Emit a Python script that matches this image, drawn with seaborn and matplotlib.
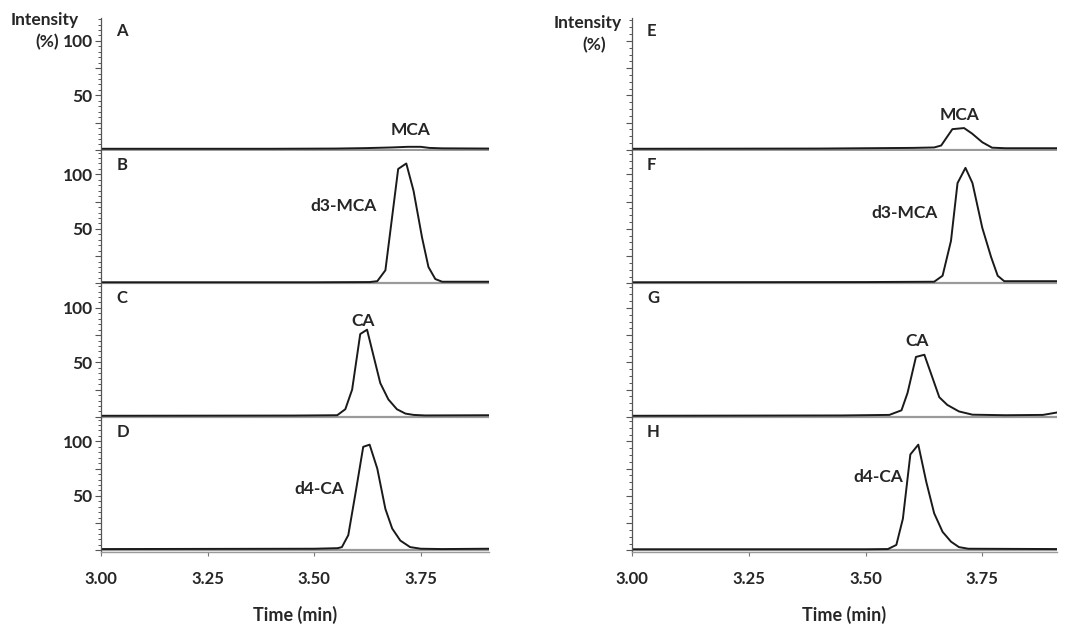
import matplotlib
matplotlib.use('Agg')
import matplotlib.pyplot as plt
import seaborn as sns
from matplotlib.ticker import MultipleLocator, FixedLocator

sns.set_style('ticks')
plt.rcParams['font.family'] = ['Lato', 'DejaVu Sans']
plt.rcParams['font.weight'] = 'bold'

# ---- chromatogram traces (time in min, intensity in %) ----
# left column: A-D
A_t = [3.00, 3.40, 3.55, 3.62, 3.68, 3.72, 3.75, 3.77, 3.80, 3.91]
A_y = [1.0, 1.0, 1.2, 1.6, 2.2, 2.8, 2.8, 1.8, 1.4, 1.2]

B_t = [3.00, 3.50, 3.63, 3.648, 3.667, 3.697, 3.716, 3.733, 3.753, 3.768, 3.784, 3.80, 3.91]
B_y = [1.0, 1.0, 1.2, 2.0, 12, 105, 110, 85, 42, 15, 4, 1.5, 1.5]

C_t = [3.00, 3.45, 3.554, 3.573, 3.589, 3.608, 3.624, 3.636, 3.655, 3.674, 3.694, 3.714, 3.733, 3.76, 3.91]
C_y = [1.0, 1.2, 1.5, 7, 25, 76, 80, 61, 31, 16, 7, 3, 1.8, 1.3, 1.5]

D_t = [3.00, 3.50, 3.555, 3.565, 3.58, 3.598, 3.615, 3.630, 3.648, 3.667, 3.683, 3.702, 3.725, 3.75, 3.80, 3.91]
D_y = [1.2, 1.5, 2, 3, 14, 55, 95, 97, 75, 38, 20, 9, 3, 1.5, 1.2, 1.5]

# right column: E-H
E_t = [3.00, 3.40, 3.60, 3.647, 3.662, 3.686, 3.711, 3.728, 3.750, 3.771, 3.80, 3.91]
E_y = [1.0, 1.2, 1.8, 2.2, 4, 19, 20, 15, 7, 2, 1.5, 1.5]

F_t = [3.00, 3.50, 3.647, 3.665, 3.683, 3.697, 3.714, 3.729, 3.750, 3.769, 3.783, 3.797, 3.91]
F_y = [1.0, 1.2, 1.5, 7, 39, 92, 106, 92, 51, 24, 7, 2, 2]

G_t = [3.00, 3.45, 3.551, 3.577, 3.590, 3.608, 3.626, 3.640, 3.658, 3.675, 3.700, 3.729, 3.80, 3.88, 3.91]
G_y = [1.0, 1.3, 1.8, 6, 22, 55, 57, 40, 18, 11, 5, 2, 1.5, 1.8, 4]

H_t = [3.00, 3.50, 3.548, 3.566, 3.580, 3.596, 3.613, 3.630, 3.647, 3.665, 3.683, 3.700, 3.720, 3.91]
H_y = [1.0, 1.0, 1.2, 5, 29, 88, 97, 63, 34, 17, 8, 3, 1.5, 1.2]

panel_letters = [['A', 'B', 'C', 'D'], ['E', 'F', 'G', 'H']]
compounds = [['MCA', 'd3-MCA', 'CA', 'd4-CA'], ['MCA', 'd3-MCA', 'CA', 'd4-CA']]
# label anchor (time, intensity) for each compound name
label_pos = [[(3.725, 18), (3.568, 71), (3.615, 88), (3.512, 56)],
             [(3.701, 32), (3.583, 65), (3.611, 70), (3.528, 67)]]
traces = [[(A_t, A_y), (B_t, B_y), (C_t, C_y), (D_t, D_y)],
          [(E_t, E_y), (F_t, F_y), (G_t, G_y), (H_t, H_y)]]

x_ticks = [3.00, 3.25, 3.50, 3.75]

fig = plt.figure(figsize=(10.7, 6.25), dpi=100)

col_x = [(101 / 1070, 388 / 1070), (632 / 1070, 425 / 1070)]
top_px, panel_px = 18, 133.5

for c in range(2):
    x0, w = col_x[c]
    for r in range(4):
        y_top = top_px + r * panel_px
        ax = fig.add_axes([x0, 1 - (y_top + panel_px) / 625, w, panel_px / 625])
        t, y = traces[c][r]
        ax.axhline(0, color='#9a9a9a', lw=1.6, zorder=1)
        sns.lineplot(x=t, y=y, ax=ax, color='#1a1a1a', lw=1.4, zorder=2)
        ax.set_xlim(3.00, 3.91)
        ax.set_ylim(-1.5, 121)
        for s in ['top', 'right']:
            ax.spines[s].set_visible(False)
        ax.spines['left'].set_color('#555555')
        ax.spines['left'].set_linewidth(0.9)
        if r < 3:
            ax.spines['bottom'].set_visible(False)
            ax.tick_params(axis='x', bottom=False, labelbottom=False)
        else:
            ax.spines['bottom'].set_color('#9a9a9a')
            ax.spines['bottom'].set_linewidth(1.0)
            ax.set_xticks(x_ticks)
            ax.set_xticklabels(['%.2f' % v for v in x_ticks])
            ax.tick_params(axis='x', length=3, width=0.8, color='#777777',
                           pad=11, labelsize=12)
            ax.set_xlabel('Time (min)', fontsize=13, fontweight='bold', labelpad=13)

        ax.yaxis.set_major_locator(FixedLocator([0, 25, 50, 75, 100]))
        if c == 0:
            ax.yaxis.set_minor_locator(MultipleLocator(5))
            ax.set_yticklabels(['', '', '50', '', '100'])
        else:
            ax.yaxis.set_minor_locator(MultipleLocator(25 / 4))
            ax.set_yticklabels([])
        ax.tick_params(axis='y', which='major', length=4, width=0.8,
                       color='#555555', labelsize=12.5, pad=2)
        ax.tick_params(axis='y', which='minor', length=2.5, width=0.7, color='#555555')
        ax.set_ylabel('')

        ax.text(0.04 if c == 0 else 0.035, 0.90, panel_letters[c][r],
                transform=ax.transAxes, fontsize=12, fontweight='bold',
                ha='left', va='center')
        lx, ly = label_pos[c][r]
        ax.text(lx, ly, compounds[c][r], fontsize=12.5, fontweight='bold',
                ha='center', va='center')

fig.text(45 / 1070, 1 - 20 / 625, 'Intensity', fontsize=12.5, fontweight='bold',
         ha='center', va='center')
fig.text(47 / 1070, 1 - 42 / 625, '(%)', fontsize=12.5, fontweight='bold',
         ha='center', va='center')
fig.text(588 / 1070, 1 - 23 / 625, 'Intensity', fontsize=12.5, fontweight='bold',
         ha='center', va='center')
fig.text(594 / 1070, 1 - 45 / 625, '(%)', fontsize=12.5, fontweight='bold',
         ha='center', va='center')

fig.savefig('out.png', dpi=100)
